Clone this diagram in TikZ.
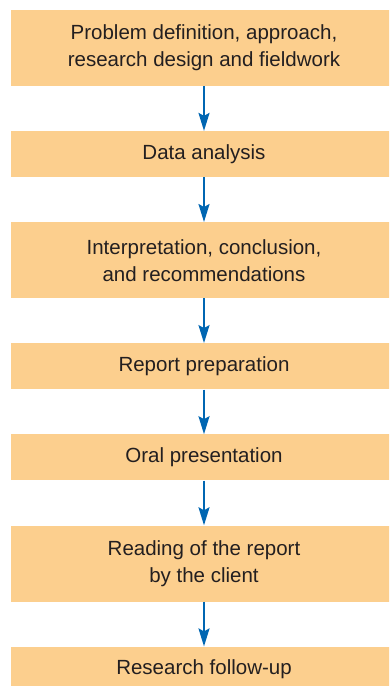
\documentclass[tikz,border=0pt]{standalone}
\usepackage{fontspec}
\setmainfont{Liberation Sans}
\usepackage{xcolor}
\usetikzlibrary{arrows.meta,positioning}
\definecolor{boxfill}{RGB}{252,207,142}
\definecolor{flowblue}{RGB}{0,102,178}
\definecolor{textgray}{RGB}{35,31,32}

\begin{document}
\begin{tikzpicture}[
  x=1pt, y=1pt,
  stage/.style={fill=boxfill, text=textgray, align=center, minimum width=386pt, inner sep=0pt, font=\fontsize{20.5}{27}\selectfont},
  tall/.style={stage, minimum height=76pt},
  short/.style={stage, minimum height=46pt},
  flow/.style={-{Stealth[length=18pt, width=11pt, inset=3pt]}, line width=2pt, draw=flowblue},
  node distance=44.7pt
]
\useasboundingbox (0,0) rectangle (389,-686);
\clip (0,0) rectangle (389,-686);
\node[tall] (problem) at (204,-48) {Problem definition, approach,\\research design and fieldwork};
\node[short, below=of problem] (analysis) {Data analysis};
\node[tall, below=of analysis] (interp) {Interpretation, conclusion,\\and recommendations};
\node[short, below=of interp] (report) {Report preparation};
\node[short, below=of report] (oral) {Oral presentation};
\node[tall, below=of oral] (reading) {Reading of the report\\by the client};
\node[short, below=of reading] (followup) {Research follow-up};
\draw[flow] (problem) -- (analysis);
\draw[flow] (analysis) -- (interp);
\draw[flow] (interp) -- (report);
\draw[flow] (report) -- (oral);
\draw[flow] (oral) -- (reading);
\draw[flow] (reading) -- (followup);
\end{tikzpicture}
\end{document}
